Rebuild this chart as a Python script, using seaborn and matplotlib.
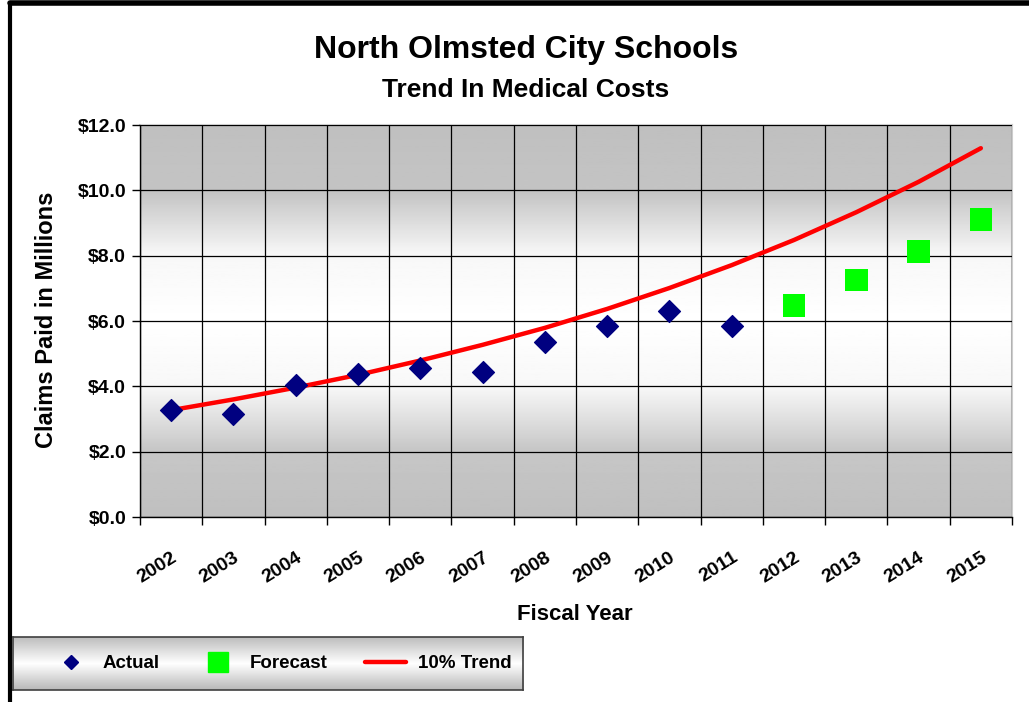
import numpy as np
import pandas as pd
import matplotlib
matplotlib.use("Agg")
import matplotlib.pyplot as plt
from matplotlib.lines import Line2D
from matplotlib.transforms import ScaledTranslation
import seaborn as sns

# data (claims paid, $ millions)
years = list(range(2002, 2016))
actual_years = [2002, 2003, 2004, 2005, 2006, 2007, 2008, 2009, 2010, 2011]
actual = [3.27, 3.15, 4.04, 4.37, 4.56, 4.43, 5.35, 5.84, 6.30, 5.84]
forecast_years = [2012, 2013, 2014, 2015]
forecast = [6.48, 7.25, 8.13, 9.11]
trend = [3.27, 3.60, 3.96, 4.35, 4.79, 5.27, 5.79, 6.37, 7.01, 7.71, 8.48, 9.33, 10.26, 11.29]

df_act = pd.DataFrame({"year": actual_years, "cost": actual})
df_fc = pd.DataFrame({"year": forecast_years, "cost": forecast})
df_tr = pd.DataFrame({"year": years, "cost": trend})

sns.set_style("white")
plt.rcParams["font.family"] = ["Liberation Sans", "DejaVu Sans"]
plt.rcParams["font.weight"] = "bold"
for k in ["text.color", "axes.labelcolor", "xtick.color", "ytick.color"]:
    plt.rcParams[k] = "black"

W, H = 1029, 702
fig = plt.figure(figsize=(W / 100, H / 100), dpi=100)
ax = fig.add_axes([140 / W, 1 - 517 / H, 872 / W, 392 / H])

# vertical gray-white-gray gradient behind the plot
stops = [0.0, 0.17, 0.33, 0.5, 0.67, 0.83, 1.0]
vals = [0.75, 0.78, 0.97, 1.0, 0.97, 0.77, 0.75]
g = np.interp(np.linspace(0, 1, 300), stops, vals).reshape(-1, 1)
ax.imshow(g, extent=[2001.5, 2015.5, 0, 12], aspect="auto", cmap="gray",
          vmin=0, vmax=1, origin="lower", zorder=0)

sns.lineplot(data=df_tr, x="year", y="cost", ax=ax, color="#ff0000", lw=3.2,
             solid_capstyle="round", label="10% Trend", zorder=3)
sns.scatterplot(data=df_act, x="year", y="cost", ax=ax, marker="D", s=125,
                color="#000080", edgecolor="#000080", label="Actual", zorder=4)
sns.scatterplot(data=df_fc, x="year", y="cost", ax=ax, marker="s", s=265,
                color="#00ff00", edgecolor="none", label="Forecast", zorder=4)

ax.set_xlim(2001.5, 2015.5)
ax.set_ylim(0, 12)
ax.set_xticks(np.arange(2001.5, 2016, 1))
ax.set_xticklabels([])
ax.set_xticks(years, minor=True)
ax.set_xticklabels([str(y) for y in years], minor=True, rotation=32,
                   ha="right", rotation_mode="anchor", fontsize=14, fontweight="bold")
shift = ScaledTranslation(-9 / 72, 0, fig.dpi_scale_trans)
for lbl in ax.get_xticklabels(minor=True):
    lbl.set_transform(lbl.get_transform() + shift)
ax.set_yticks(np.arange(0, 13, 2))
ax.set_yticklabels([f"${v:.1f}" for v in np.arange(0, 13, 2)], fontsize=14,
                   fontweight="bold")
ax.tick_params(axis="x", which="major", direction="out", length=6, width=1,
               color="black", bottom=True)
ax.tick_params(axis="x", which="minor", length=0, pad=23)
ax.tick_params(axis="y", direction="out", length=6, width=1, color="black",
               left=True, pad=4)
ax.grid(True, which="major", color="black", lw=0.9, zorder=1)
ax.set_axisbelow(False)
for s in ["left", "bottom"]:
    ax.spines[s].set_color("black")
    ax.spines[s].set_linewidth(1)
for s in ["top", "right"]:
    ax.spines[s].set_color("#cccccc")
    ax.spines[s].set_linewidth(1.5)
ax.set_xlabel("")
ax.set_ylabel("")
handles, labels = ax.get_legend_handles_labels()
ax.get_legend().remove()

fig.text(526 / W, 1 - 50 / H, "North Olmsted City Schools", ha="center",
         va="center", fontsize=23, fontweight="bold")
fig.text(526 / W, 1 - 90 / H, "Trend In Medical Costs", ha="center",
         va="center", fontsize=19, fontweight="bold")
fig.text(575 / W, 1 - 614 / H, "Fiscal Year", ha="center", va="center",
         fontsize=16, fontweight="bold")
fig.text(47 / W, 1 - 320 / H, "Claims Paid in Millions", ha="center",
         va="center", rotation=90, fontsize=17, fontweight="bold")

# legend box with gradient fill
lax = fig.add_axes([13 / W, 1 - 690 / H, 510 / W, 53 / H])
lg = np.interp(np.linspace(0, 1, 100), [0, 0.5, 1], [0.72, 1.0, 0.74]).reshape(-1, 1)
lax.imshow(lg, extent=[0, 1, 0, 1], aspect="auto", cmap="gray", vmin=0, vmax=1,
           origin="lower")
lax.set_xticks([])
lax.set_yticks([])
for s in lax.spines.values():
    s.set_color("#404040")
    s.set_linewidth(1.2)
order = [labels.index("Actual"), labels.index("Forecast"), labels.index("10% Trend")]
leg_handles = [
    Line2D([], [], marker="D", color="#000080", ls="none", markersize=7),
    Line2D([], [], marker="s", color="#00ff00", ls="none", markersize=15),
    Line2D([], [], color="#ff0000", lw=3.2),
]
lax.legend(leg_handles, [labels[i] for i in order], ncol=3, loc="center",
           bbox_to_anchor=(0.525, 0.5), frameon=False,
           prop={"size": 13.5, "weight": "bold"},
           handlelength=2.2, columnspacing=2.0, handletextpad=0.6)

# outer frame of the original chart object
fig.add_artist(Line2D([10 / W, 10 / W], [0, 1 - 3 / H], transform=fig.transFigure,
                      color="black", lw=3))
fig.add_artist(Line2D([10 / W, 1], [1 - 3 / H, 1 - 3 / H], transform=fig.transFigure,
                      color="black", lw=4))

fig.savefig("out.png", dpi=100)
